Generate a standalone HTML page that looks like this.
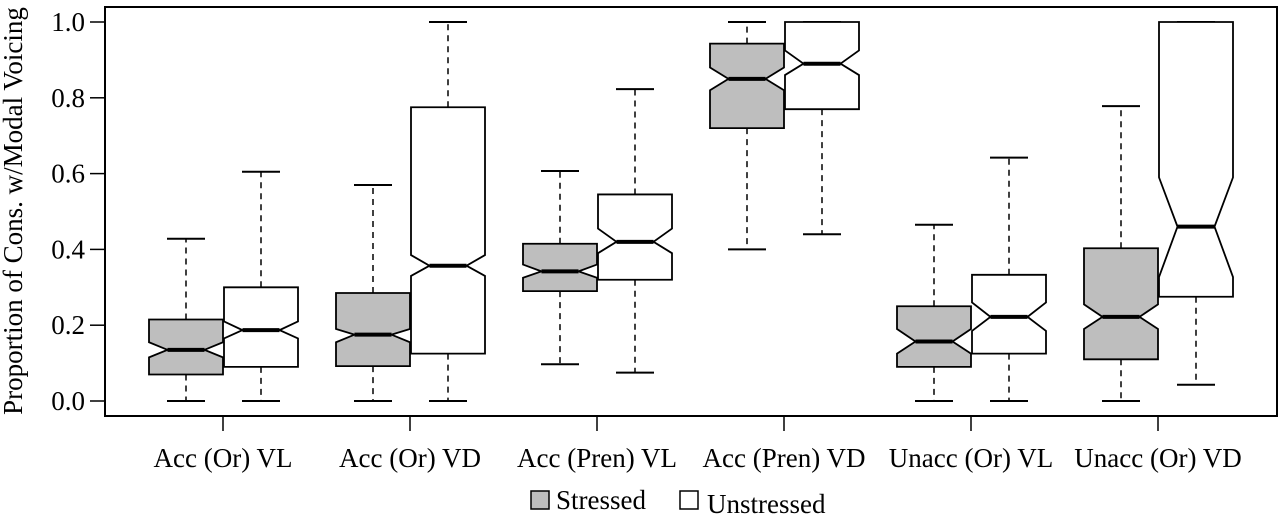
<!DOCTYPE html>
<html><head><meta charset="utf-8"><style>
body{margin:0;background:#fff}
svg{display:block;font-family:"Liberation Serif",serif}
</style></head><body>
<svg id="chart" width="1280" height="516" viewBox="0 0 1280 516" xmlns="http://www.w3.org/2000/svg"></svg>
<script>
const categories=["Acc (Or) VL","Acc (Or) VD","Acc (Pren) VL","Acc (Pren) VD","Unacc (Or) VL","Unacc (Or) VD"];
const yTicks=[0,0.2,0.4,0.6,0.8,1.0];
const yTickLabels=["0.0","0.2","0.4","0.6","0.8","1.0"];
// [min, q1, median, q3, max, notchLo, notchHi]
const stressed=[
 [0,0.07,0.135,0.215,0.428,0.115,0.155],
 [0,0.092,0.175,0.285,0.57,0.155,0.19],
 [0.097,0.29,0.342,0.415,0.607,0.325,0.36],
 [0.40,0.72,0.85,0.943,1.0,0.82,0.88],
 [0,0.09,0.157,0.25,0.465,0.125,0.19],
 [0,0.11,0.222,0.403,0.778,0.19,0.255]
];
const unstressed=[
 [0,0.09,0.187,0.30,0.605,0.165,0.21],
 [0,0.125,0.357,0.775,1.0,0.33,0.385],
 [0.075,0.32,0.42,0.545,0.823,0.39,0.455],
 [0.44,0.77,0.89,1.0,1.0,0.86,0.925],
 [0,0.125,0.222,0.333,0.642,0.185,0.26],
 [0.043,0.275,0.46,1.0,1.0,0.327,0.59]
];
const svg=document.getElementById('chart');
const NS='http://www.w3.org/2000/svg';
const y=v=>401-v*379;
const xc=i=>223+i*187;
function mk(tag,attrs,parent){const e=document.createElementNS(NS,tag);for(const k in attrs)e.setAttribute(k,attrs[k]);(parent||svg).appendChild(e);return e;}
let fr=mk('rect',{x:105,y:7,width:1172,height:409,fill:'none',stroke:'#000','stroke-width':2});


yTicks.forEach((t,i)=>{
 let l=mk('line',{x1:90,x2:105,y1:y(t),y2:y(t),stroke:'#000','stroke-width':1.5});
 
 
 let tx=mk('text',{x:85,y:y(t)+9,'text-anchor':'end','font-size':27});
 tx.textContent=yTickLabels[i];
 
 
});
let yt=mk('text',{x:0,y:0,'text-anchor':'middle','font-size':27,transform:'translate(22,211) rotate(-90)'});
yt.textContent='Proportion of Cons. w/Modal Voicing';


categories.forEach((c,i)=>{
 let l=mk('line',{x1:xc(i),x2:xc(i),y1:416,y2:431,stroke:'#000','stroke-width':1.5});
 
 
 let tx=mk('text',{x:xc(i),y:467,'text-anchor':'middle','font-size':27});
 tx.textContent=c;
 
 
});
function box(d,cx,fill,name){
 const g=mk('g',{});
 
 
 const hw=37,nw=18.5,cw=19;
 const [mn,q1,md,q3,mx,nl,nh]=d;
 mk('line',{x1:cx,x2:cx,y1:y(q3),y2:y(mx),stroke:'#000','stroke-width':1.5,'stroke-dasharray':'6,5'},g);
 mk('line',{x1:cx,x2:cx,y1:y(q1),y2:y(mn),stroke:'#000','stroke-width':1.5,'stroke-dasharray':'6,5'},g);
 mk('line',{x1:cx-cw,x2:cx+cw,y1:y(mx),y2:y(mx),stroke:'#000','stroke-width':2},g);
 mk('line',{x1:cx-cw,x2:cx+cw,y1:y(mn),y2:y(mn),stroke:'#000','stroke-width':2},g);
 const L=cx-hw,R=cx+hw;
 const pts=[[L,y(q1)],[L,y(nl)],[L+nw,y(md)],[L,y(nh)],[L,y(q3)],[R,y(q3)],[R,y(nh)],[R-nw,y(md)],[R,y(nl)],[R,y(q1)]];
 mk('polygon',{points:pts.map(p=>p.join(',')).join(' '),fill:fill,stroke:'#000','stroke-width':1.8},g);
 mk('line',{x1:L+nw,x2:R-nw,y1:y(md),y2:y(md),stroke:'#000','stroke-width':4},g);
}
categories.forEach((c,i)=>{
 box(stressed[i],xc(i)-37,'#bebebe','box-stressed');
 box(unstressed[i],xc(i)+38,'#fff','box-unstressed');
});
let r1=mk('rect',{x:531,y:491,width:18,height:18,fill:'#bebebe',stroke:'#000','stroke-width':1.5});


let t1=mk('text',{x:556,y:509,'font-size':27});t1.textContent='Stressed';


let r2=mk('rect',{x:680,y:491,width:18,height:18,fill:'#fff',stroke:'#000','stroke-width':1.5});


let t2=mk('text',{x:707,y:513,'font-size':27});t2.textContent='Unstressed';


</script>
</body></html>
